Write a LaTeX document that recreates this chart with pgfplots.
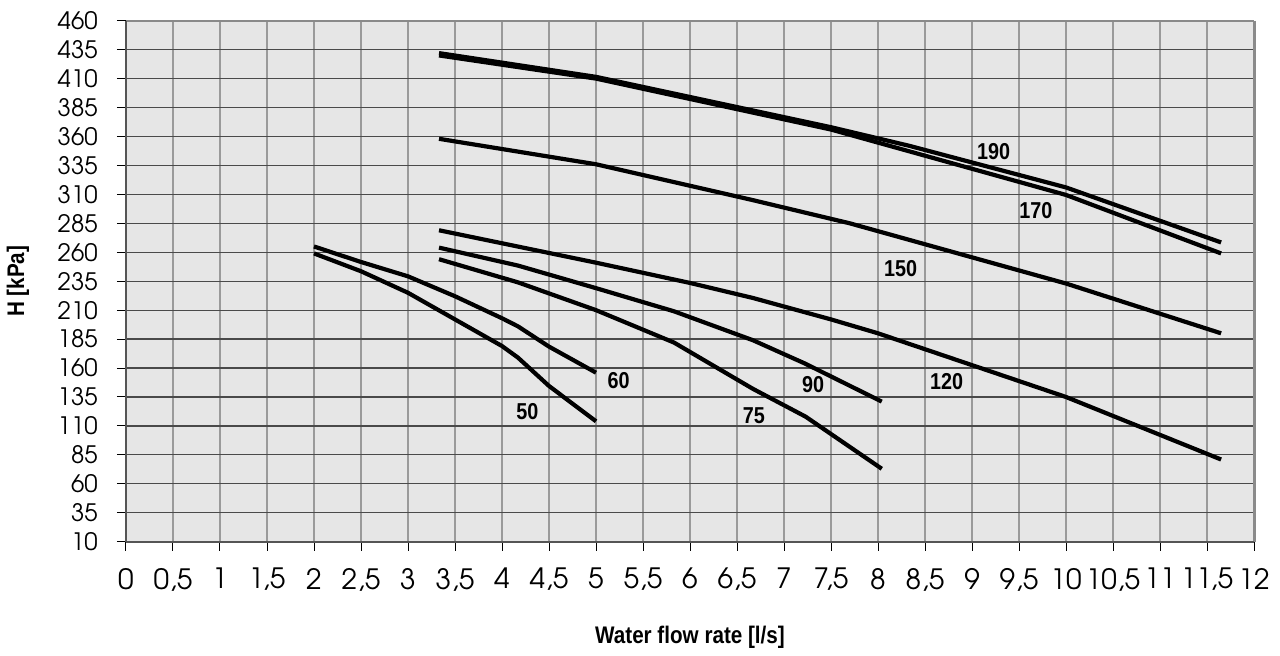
\documentclass[border=0pt]{standalone}
\usepackage{fontspec}
\usepackage{pgfplots}
\pgfplotsset{compat=1.18}
\setmainfont{Liberation Sans}
\newfontfamily\tickfont{TeX Gyre Adventor}
\newfontfamily\lblfont[FakeStretch=0.86]{Liberation Sans}
\definecolor{bg}{HTML}{E6E6E6}
\definecolor{vgrid}{HTML}{9A9A9A}
\definecolor{hgrid}{HTML}{4A4A4A}
\definecolor{frame}{HTML}{8A8A8A}
\definecolor{axdark}{HTML}{555555}
\begin{document}
\begin{tikzpicture}
\begin{axis}[
  at={(0,0)}, anchor=south west,
  scale only axis, width=564pt, height=260.5pt,
  xmin=0, xmax=12, ymin=10, ymax=460,
  xtick={0,0.5,...,12},
  ytick={10,35,...,460},
  xticklabels={0,{0,5},1,{1,5},2,{2,5},3,{3,5},4,{4,5},5,{5,5},6,{6,5},7,{7,5},8,{8,5},9,{9,5},10,{10,5},11,{11,5},12},
  yticklabels={10,35,60,85,110,135,160,185,210,235,260,285,310,335,360,385,410,435,460},
  tick pos=left,
  tick align=outside,
  major tick length=4.5pt,
  tick style={black, line width=0.5pt},
  xmajorgrids, ymajorgrids,
  x grid style={vgrid, line width=0.7pt},
  y grid style={hgrid, line width=0.6pt},
  axis background/.style={fill=bg},
  axis line style={draw=none},
  yticklabel style={font=\tickfont\fontsize{12}{14}\selectfont, anchor=east, inner sep=0pt, xshift=-9.5pt},
  xticklabel style={font=\tickfont\fontsize{14}{16}\selectfont, anchor=north, inner sep=0pt, yshift=-8.5pt},
  every axis y label/.style={at={(axis description cs:-0.0957,0.5)}, rotate=90, anchor=center},
  every axis x label/.style={at={(axis description cs:0.5,-0.1831)}, anchor=center},
  ylabel={\lblfont\bfseries\fontsize{12}{14}\selectfont H [kPa]},
  xlabel={\lblfont\bfseries\fontsize{12}{14}\selectfont Water flow rate [l/s]},
  clip=false,
  curve/.style={black, line width=2.1pt, line join=round, mark=none, solid},
]
% frame
\draw[frame, line width=1pt] (rel axis cs:0,1) -- (rel axis cs:1,1);
\draw[frame, line width=1.5pt] (rel axis cs:1,1) -- (rel axis cs:1,0);
\draw[axdark, line width=1pt] (rel axis cs:0,0) -- (rel axis cs:0,1);
\draw[axdark, line width=1pt] (rel axis cs:0,0) -- (rel axis cs:1,0);

% 50
\addplot[curve] coordinates {(2,259) (2.5,243.6) (3,225) (3.5,202) (4,179) (4.17,169) (4.5,144.5) (5,114)};
% 60
\addplot[curve] coordinates {(2,265) (2.5,251.6) (3,239.2) (3.5,222) (4,203) (4.17,196) (4.5,178.5) (5,156)};
% 75
\addplot[curve] coordinates {(3.33,254) (4.17,234) (5,210) (5.83,182) (6.67,142) (7.23,118) (8.04,73)};
% 90
\addplot[curve] coordinates {(3.33,264) (4.17,248.5) (5,229) (5.83,209) (6.67,184) (7.22,164) (8.04,131)};
% 120
\addplot[curve] coordinates {(3.33,279) (5,251) (6,233.5) (6.67,220.5) (7.5,202) (8,190) (10,135) (11.65,81)};
% 150
\addplot[curve] coordinates {(3.33,358) (5,336) (6.67,305) (7.7,285) (10,233) (11.65,190)};
% 170
\addplot[curve] coordinates {(3.33,430) (5,410) (7.5,366) (10,309.5) (11.65,259)};
% 190
\addplot[curve] coordinates {(3.33,432) (5,411.5) (7.5,368) (8.33,352) (10,316) (11.65,268.5)};

\begin{scope}[every node/.style={font=\lblfont\bfseries\fontsize{11.5}{13}\selectfont, inner sep=0pt}]
\node at (axis cs:9.23,346.9) {190};
\node at (axis cs:9.68,295.9) {170};
\node at (axis cs:8.24,246.1) {150};
\node at (axis cs:8.73,148.2) {120};
\node at (axis cs:7.31,145.4) {90};
\node at (axis cs:6.68,118.8) {75};
\node at (axis cs:5.24,149.1) {60};
\node at (axis cs:4.27,122.3) {50};
\end{scope}
\end{axis}
\pgfresetboundingbox
\path[use as bounding box] (-63pt,-56.65pt) rectangle (577pt,270.85pt);
\end{tikzpicture}
\end{document}
